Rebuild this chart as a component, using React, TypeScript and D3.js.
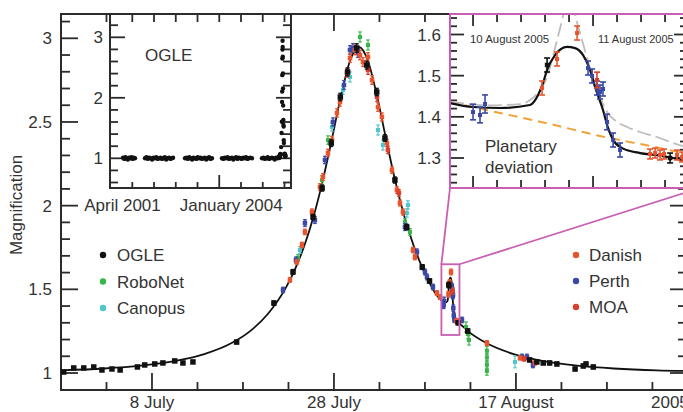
import React from 'react';
import * as d3 from 'd3';

type Pt = [number, number, number]; // HJD-2450000, magnification, error
type XY = [number, number];

const FONT = '"Liberation Sans", Arial, Helvetica, sans-serif';
const INK = '#2b2b2b';
const PINK = '#c95fb4';

// ---------- main light curve ----------
const modelCurve: XY[] = [
  [3550, 1.016], [3554.75, 1.027], [3558.75, 1.044], [3562.75, 1.074], [3565.75, 1.113],
  [3568.75, 1.179], [3570.75, 1.249], [3572.75, 1.354], [3574.75, 1.513], [3575.75, 1.624],
  [3576.75, 1.762], [3577.75, 1.934], [3578.75, 2.145], [3579.75, 2.392], [3580.75, 2.65],
  [3581.75, 2.863], [3582.75, 2.948], [3583.75, 2.863], [3584.75, 2.65], [3585.75, 2.392],
  [3586.75, 2.145], [3587.75, 1.934], [3588.75, 1.762], [3589.75, 1.624], [3590.75, 1.513],
  [3591.0, 1.489], [3591.808, 1.4336], [3592.0, 1.4239], [3592.225, 1.4214], [3592.475, 1.4287],
  [3592.542, 1.453], [3592.583, 1.482], [3592.617, 1.514], [3592.683, 1.55], [3592.783, 1.57],
  [3592.85, 1.567], [3592.917, 1.55], [3592.975, 1.514], [3593.017, 1.4725], [3593.083, 1.4166],
  [3593.125, 1.373], [3593.167, 1.344], [3593.242, 1.324], [3593.392, 1.312], [3593.533, 1.307],
  [3593.75, 1.295], [3593.908, 1.29], [3594.75, 1.249], [3596.75, 1.179], [3599.75, 1.113],
  [3602.75, 1.074], [3606.75, 1.044], [3610.75, 1.027], [3615.5, 1.016], [3619, 1.0125],
];

const ogle: Pt[] = [
  [3550.3, 1.006, .008], [3551.4, 1.03, .008], [3552.5, 1.03, .008], [3553.6, 1.036, .008],
  [3554.5, 1.018, .008], [3555.6, 1.024, .008], [3556.5, 1.018, .008], [3558.4, 1.036, .008],
  [3559.2, 1.048, .008], [3560.3, 1.054, .008], [3561.2, 1.06, .008], [3562.5, 1.072, .008],
  [3563.4, 1.06, .008], [3564.5, 1.066, .008], [3569.3, 1.185, .01], [3573.4, 1.418, .012],
  [3575.5, 1.604, .014], [3577.7, 1.932, .016], [3578.7, 2.105, .018], [3579.7, 2.374, .02],
  [3580.7, 2.649, .022], [3581.5, 2.799, .024], [3582.5, 2.942, .025], [3583.6, 2.84, .024],
  [3584.7, 2.679, .022], [3585.6, 2.404, .02], [3586.7, 2.153, .018], [3588.0, 1.872, .016],
  [3589.7, 1.633, .014], [3590.5, 1.55, .013], [3592.617, 1.5259, .017], [3593.642, 1.30, .012],
  [3594.7, 1.251, .012], [3601.5, 1.078, .01], [3602.3, 1.066, .01], [3603.0, 1.06, .01],
  [3603.7, 1.06, .01], [3604.5, 1.054, .01], [3606.5, 1.024, .01], [3607.4, 1.042, .01],
  [3607.7, 1.054, .01], [3608.5, 1.036, .01],
];

const robonet: Pt[] = [
  [3576.04, 1.687, .02], [3578.68, 2.153, .025], [3579.34, 2.392, .025], [3582.86, 3.008, .03],
  [3583.74, 2.96, .03], [3587.8, 1.902, .02], [3588.35, 1.843, .02], [3594.51, 1.275, .03],
  [3594.73, 1.233, .03], [3594.84, 1.197, .03], [3596.81, 1.134, .025], [3596.81, 1.093, .025],
  [3596.81, 1.051, .025], [3596.81, 1.012, .025],
];

const canopus: Pt[] = [
  [3576.26, 1.735, .02], [3579.78, 2.47, .025], [3580.99, 2.691, .025], [3581.76, 2.769, .03],
  [3584.84, 2.452, .03], [3585.38, 2.362, .03], [3588.13, 2.004, .025], [3588.02, 1.956, .025],
  [3599.89, 1.066, .035],
];

const danish: Pt[] = [
  [3575.16, 1.556, .014], [3575.93, 1.663, .014], [3576.48, 1.765, .016], [3576.81, 1.843, .016],
  [3577.58, 1.962, .018], [3578.46, 2.111, .02], [3578.79, 2.171, .02], [3579.34, 2.315, .022],
  [3579.78, 2.392, .022], [3580.33, 2.554, .025], [3580.66, 2.619, .025], [3581.43, 2.793, .026],
  [3581.76, 2.882, .026], [3582.31, 2.93, .028], [3582.86, 2.9, .028], [3583.19, 2.858, .026],
  [3583.74, 2.888, .026], [3584.18, 2.751, .026], [3584.84, 2.589, .025], [3585.27, 2.53, .024],
  [3585.82, 2.374, .022], [3586.37, 2.213, .02], [3586.92, 2.094, .02], [3587.25, 2.016, .018],
  [3587.58, 1.962, .018], [3588.68, 1.735, .016], [3588.9, 1.693, .016], [3591.32, 1.478, .014],
  [3591.65, 1.454, .014], [3592.575, 1.47, .017], [3592.7, 1.5405, .017], [3592.867, 1.6036, .017],
  [3593.475, 1.3097, .012], [3593.517, 1.3121, .012], [3593.558, 1.3073, .012], [3593.592, 1.3097, .012],
  [3593.7, 1.3073, .012], [3593.742, 1.3024, .012], [3596.81, 1.179, .014], [3600.44, 1.09, .012],
  [3602.09, 1.06, .012],
];

const moa: Pt[] = [
  [3583.74, 2.811, .026], [3584.73, 2.649, .026], [3585.93, 2.333, .022], [3587.14, 2.076, .02],
  [3593.033, 1.4895, .019], [3600.9, 1.085, .014],
];

const perth: Pt[] = [
  [3574.4, 1.496, .016], [3575.82, 1.675, .018], [3576.81, 1.896, .02], [3577.91, 1.914, .02],
  [3579.01, 2.273, .022], [3579.89, 2.5, .024], [3581.1, 2.721, .026], [3581.76, 2.93, .026],
  [3582.09, 2.942, .026], [3582.64, 2.912, .026], [3587.8, 1.872, .02], [3589.12, 1.723, .018],
  [3590.0, 1.604, .017], [3590.22, 1.574, .017], [3590.88, 1.514, .016], [3592.0, 1.4117, .019],
  [3592.058, 1.4044, .019], [3592.1, 1.4312, .022], [3592.958, 1.5186, .017], [3592.992, 1.4992, .017],
  [3593.033, 1.47, .017], [3593.058, 1.4603, .017], [3593.083, 1.4676, .017], [3593.117, 1.3874, .019],
  [3593.167, 1.3437, .017], [3593.225, 1.3194, .017], [3594.07, 1.317, .016], [3600.66, 1.096, .016],
  [3601.21, 1.096, .016], [3601.87, 1.048, .016],
];

const mainXMajor = [3560, 3580, 3600];
const mainXLabels = ['8 July', '28 July', '17 August'];
const mainYMajor = [1, 1.5, 2, 2.5, 3];

// ---------- OGLE long-term inset ----------
const ogleSeasons: XY[] = [
  [2115, 1.01], [2126, 0.99], [2137, 1.02], [2148, 1.0], [2159, 0.98], [2170, 1.01], [2181, 1.0],
  [2192, 1.02], [2203, 0.99], [2214, 1.01], [2225, 1.0],
  [2317, 1.0], [2330, 1.02], [2343, 0.99], [2356, 1.01], [2369, 1.0], [2382, 0.98], [2395, 1.01],
  [2408, 1.0], [2421, 1.02], [2434, 0.99], [2447, 1.0], [2460, 1.01], [2473, 0.99], [2486, 1.0],
  [2499, 1.02], [2512, 0.98], [2525, 1.0], [2538, 1.01], [2551, 0.99], [2564, 1.0], [2575, 1.01],
  [2685, 1.0], [2698, 1.01], [2711, 0.99], [2724, 1.02], [2737, 1.0], [2750, 0.98], [2763, 1.01],
  [2776, 1.0], [2789, 0.99], [2802, 1.02], [2815, 1.0], [2828, 1.01], [2841, 0.99], [2854, 1.0],
  [2867, 1.01], [2880, 0.98], [2893, 1.0], [2906, 1.02], [2919, 0.99], [2933, 1.0],
  [3025, 1.0], [3038, 0.99], [3051, 1.01], [3064, 1.0], [3077, 1.02], [3090, 0.99], [3103, 1.0],
  [3116, 1.01], [3129, 0.98], [3142, 1.0], [3155, 1.02], [3168, 0.99], [3181, 1.01], [3194, 1.0],
  [3207, 0.99], [3220, 1.01], [3233, 1.0], [3246, 1.02], [3259, 0.99], [3272, 1.0], [3285, 1.01],
  [3301, 1.0],
  [3393, 1.0], [3406, 1.01], [3419, 0.99], [3432, 1.0], [3445, 1.02], [3458, 0.99], [3471, 1.0],
  [3484, 1.01], [3497, 1.0], [3510, 0.98], [3523, 1.01], [3536, 1.0], [3545, 1.01],
];
const in1Labels = ['April 2001', 'January 2004'];
const in1LabelAt = [2110, 3110];
const in1XMajor = [2000, 3000];
const in1YMajor = [1, 2, 3];

// ---------- planetary deviation inset ----------
const singleLens: XY[] = [
  [3591.808, 1.436], [3592.225, 1.4093], [3592.642, 1.3826], [3593.058, 1.3534], [3593.475, 1.3291], [3593.9, 1.3024],
];
const altModel: XY[] = [
  [3591.808, 1.437], [3592.142, 1.428], [3592.392, 1.431], [3592.475, 1.4409], [3592.558, 1.4652],
  [3592.617, 1.4967], [3592.658, 1.538], [3592.7, 1.5866], [3592.742, 1.6352], [3592.775, 1.679],
  [3592.808, 1.7032], [3592.833, 1.679], [3592.858, 1.64], [3592.892, 1.6036], [3592.95, 1.5429],
  [3593.0, 1.4943], [3593.058, 1.4482], [3593.117, 1.4117], [3593.2, 1.3874], [3593.283, 1.3753],
  [3593.392, 1.3632], [3593.533, 1.351], [3593.667, 1.3364], [3593.808, 1.3243], [3593.9, 1.318],
];
const in2YMajor = [1.3, 1.4, 1.5, 1.6];
const in2XMajor = [3592, 3593];
const in2Labels = ['10 August 2005', '11 August 2005'];

const legendLeft = [
  { name: 'OGLE', color: '#111111' },
  { name: 'RoboNet', color: '#3ab54a' },
  { name: 'Canopus', color: '#4ec6cc' },
];
const legendRight = [
  { name: 'Danish', color: '#e8552d' },
  { name: 'Perth', color: '#3a48a6' },
  { name: 'MOA', color: '#d8402c' },
];

function Marks({ data, sx, sy, color, size, cap, sw }: any) {
  return (
    <g>
      {data.map((d: Pt, i: number) => {
        const cx = sx(d[0]);
        const cy = sy(d[1]);
        const y1 = sy(d[1] - d[2]);
        const y2 = sy(d[1] + d[2]);
        return (
          <g key={i}>
            <line x1={cx} x2={cx} y1={y1} y2={y2} stroke={color} strokeWidth={sw} />
            <line x1={cx - cap} x2={cx + cap} y1={y1} y2={y1} stroke={color} strokeWidth={sw} />
            <line x1={cx - cap} x2={cx + cap} y1={y2} y2={y2} stroke={color} strokeWidth={sw} />
            <rect x={cx - size / 2} y={cy - size / 2} width={size} height={size} fill={color} />
          </g>
        );
      })}
    </g>
  );
}

export default function App() {
  const W = 683, H = 412;
  // main frame
  const L = 61, R = 687, T = 14, B = 390;
  const x = d3.scaleLinear().domain([3550, 3618.8]).range([L, R]);
  const y = d3.scaleLinear().domain([1, 3]).range([373, 38.3]);
  const line = d3.line<XY>().x(d => x(d[0])).y(d => y(d[1])).curve(d3.curveMonotoneX);

  const xMinor = d3.range(3555, 3619, 5);
  const yMinor = d3.range(9, 32).map(v => v / 10).filter(v => y(v) > T + 1 && y(v) < B - 1);

  // inset 1
  const i1 = { l: 110, r: 291, t: 14, b: 188 };
  const x1 = d3.scaleLinear().domain([1995, 3660]).range([i1.l, i1.r]);
  const y1 = d3.scaleLinear().domain([1, 3]).range([158.3, 37.3]);
  const x1Ticks = d3.range(2200, 3700, 200).filter(v => x1(v) < i1.r - 2);
  const y1Ticks = d3.range(3, 17).map(v => v / 5).filter(v => y1(v) > i1.t + 1 && y1(v) < i1.b - 1);
  const inset1Pts: XY[] = ogleSeasons.concat(ogle.map(d => [d[0], d[1]] as XY));

  // inset 2 (120 px per day)
  const i2 = { l: 450, r: 692, t: 14, b: 188 };
  const x2 = d3.scaleLinear().domain([3591.808, 3591.808 + (i2.r - i2.l) / 120]).range([i2.l, i2.r]);
  const y2 = d3.scaleLinear().domain([1.3, 1.6]).range([158, 34.5]);
  const line2 = d3.line<XY>().x(d => x2(d[0])).y(d => y2(d[1])).curve(d3.curveMonotoneX);
  const x2Ticks = d3.range(3592, 3594, 0.2).map(v => Math.round(v * 10) / 10).filter(v => x2(v) < i2.r - 2);
  const y2Ticks = d3.range(62, 83).map(v => v / 50).filter(v => y2(v) > i2.t + 1 && y2(v) < i2.b - 1);
  const winEnd = 3591.808 + 238 / 120;
  const inWin = (d: Pt) => d[0] >= 3591.75 && d[0] <= winEnd + 0.1;

  // zoom box in main plot
  const bx0 = x(3591.808), bx1 = x(winEnd);
  const by0 = y(y2.invert(i2.t)), by1 = y(y2.invert(i2.b));

  const txt = { fontFamily: FONT, fill: '#333' } as const;

  return (
    <svg width={W} height={H} style={{ position: 'absolute', left: 0, top: 0, background: '#fff' }}>
      <defs>
        <clipPath id="cMain"><rect x={L} y={T} width={R - L} height={B - T} /></clipPath>
        <clipPath id="cIn1"><rect x={i1.l} y={i1.t} width={i1.r - i1.l} height={i1.b - i1.t} /></clipPath>
        <clipPath id="cIn2"><rect x={i2.l} y={i2.t} width={i2.r - i2.l} height={i2.b - i2.t} /></clipPath>
      </defs>
      <rect x={0} y={0} width={W} height={H} fill="#fff" />

      {/* main axes ticks */}
      <g stroke={INK} strokeWidth={1.8}>
        {xMinor.map(v => {
          const maj = mainXMajor.includes(v);
          const len = maj ? 17 : 8;
          return (
            <g key={'xt' + v}>
              <line x1={x(v)} x2={x(v)} y1={B} y2={B - len} />
              <line x1={x(v)} x2={x(v)} y1={T} y2={T + len} />
            </g>
          );
        })}
        {yMinor.map(v => {
          const maj = mainYMajor.some(m => Math.abs(m - v) < 1e-6);
          const len = maj ? 17 : 9;
          return (
            <g key={'yt' + v}>
              <line x1={L} x2={L + len} y1={y(v)} y2={y(v)} />
              <line x1={R} x2={R - len} y1={y(v)} y2={y(v)} />
            </g>
          );
        })}
      </g>
      <rect x={L} y={T} width={R - L} height={B - T} fill="none" stroke={INK} strokeWidth={2} />

      {mainYMajor.map(v => (
        <text key={'yl' + v} x={52} y={y(v)} dy="0.36em" textAnchor="end" fontSize={17} style={txt}>{String(v)}</text>
      ))}
      {mainXMajor.map((v, i) => (
        <text key={'xl' + v} x={x(v)} y={407.5} textAnchor="middle" fontSize={17} style={txt}>{mainXLabels[i]}</text>
      ))}
      <text x={651} y={407.5} textAnchor="start" fontSize={17} style={txt}>2005</text>
      <text transform="translate(22,205) rotate(-90)" textAnchor="middle" fontSize={17} style={txt}>Magnification</text>

      {/* main curve and data */}
      <g clipPath="url(#cMain)">
        <path d={line(modelCurve) || ''} fill="none" stroke="#111" strokeWidth={1.8} />
        <Marks data={canopus} sx={x} sy={y} color="#4ec6cc" size={4} cap={1.8} sw={1.2} />
        <Marks data={robonet} sx={x} sy={y} color="#3ab54a" size={4} cap={1.8} sw={1.2} />
        <Marks data={perth} sx={x} sy={y} color="#3a48a6" size={4.5} cap={1.8} sw={1.4} />
        <Marks data={danish} sx={x} sy={y} color="#e8552d" size={4.5} cap={1.8} sw={1.4} />
        <Marks data={moa} sx={x} sy={y} color="#d8402c" size={4.5} cap={1.8} sw={1.4} />
        <Marks data={ogle} sx={x} sy={y} color="#111" size={5.5} cap={2} sw={1.4} />
      </g>

      {/* legends */}
      {legendLeft.map((d, i) => (
        <g key={d.name}>
          <circle cx={103} cy={255 + i * 26.5} r={3.2} fill={d.color} />
          <text x={117} y={261 + i * 26.5} fontSize={17} style={txt}>{d.name}</text>
        </g>
      ))}
      {legendRight.map((d, i) => (
        <g key={d.name}>
          <circle cx={576} cy={255 + i * 26} r={3.2} fill={d.color} />
          <text x={589} y={261 + i * 26} fontSize={17} style={txt}>{d.name}</text>
        </g>
      ))}

      {/* OGLE long-term inset */}
      <rect x={i1.l} y={i1.t} width={i1.r - i1.l} height={i1.b - i1.t} fill="#fff" />
      <g stroke={INK} strokeWidth={1.8}>
        {x1Ticks.map(v => {
          const maj = in1XMajor.includes(v);
          return (
            <g key={'x1' + v}>
              <line x1={x1(v)} x2={x1(v)} y1={i1.b} y2={i1.b - (maj ? 13 : 6)} />
              <line x1={x1(v)} x2={x1(v)} y1={i1.t} y2={i1.t + 8} />
            </g>
          );
        })}
        {y1Ticks.map(v => {
          const maj = in1YMajor.some(m => Math.abs(m - v) < 1e-6);
          const len = maj ? 15 : 8;
          return (
            <g key={'y1' + v}>
              <line x1={i1.l} x2={i1.l + len} y1={y1(v)} y2={y1(v)} />
              <line x1={i1.r} x2={i1.r - len} y1={y1(v)} y2={y1(v)} />
            </g>
          );
        })}
      </g>
      <g clipPath="url(#cIn1)">
        {inset1Pts.map((d, i) => (
          <circle key={i} cx={x1(d[0])} cy={y1(d[1])} r={2.2} fill="#111" />
        ))}
      </g>
      <rect x={i1.l} y={i1.t} width={i1.r - i1.l} height={i1.b - i1.t} fill="none" stroke={INK} strokeWidth={2} />
      {in1YMajor.map(v => (
        <text key={'y1l' + v} x={103} y={y1(v)} dy="0.36em" textAnchor="end" fontSize={17} style={txt}>{String(v)}</text>
      ))}
      {in1Labels.map((s, i) => (
        <text key={s} x={x1(in1LabelAt[i])} y={211} textAnchor="middle" fontSize={17} style={txt}>{s}</text>
      ))}
      <text x={145} y={61} fontSize={17} style={txt}>OGLE</text>

      {/* planetary deviation inset */}
      <rect x={i2.l} y={i2.t} width={i2.r - i2.l} height={i2.b - i2.t} fill="#fff" />
      <g stroke={INK} strokeWidth={1.8}>
        {x2Ticks.map(v => {
          const maj = in2XMajor.some(m => Math.abs(m - v) < 1e-6);
          const len = maj ? 12 : 8;
          return (
            <g key={'x2' + v}>
              <line x1={x2(v)} x2={x2(v)} y1={i2.b} y2={i2.b - len} />
              <line x1={x2(v)} x2={x2(v)} y1={i2.t} y2={i2.t + len} />
            </g>
          );
        })}
        {y2Ticks.map(v => {
          const maj = in2YMajor.some(m => Math.abs(m - v) < 1e-6);
          return (
            <g key={'y2' + v}>
              <line x1={i2.l} x2={i2.l + (maj ? 14 : 7)} y1={y2(v)} y2={y2(v)} />
              <line x1={i2.r} x2={i2.r - (maj ? 18 : 12)} y1={y2(v)} y2={y2(v)} />
            </g>
          );
        })}
      </g>
      <g clipPath="url(#cIn2)">
        <path d={line2(singleLens) || ''} fill="none" stroke="#f0a238" strokeWidth={2} strokeDasharray="9,6" />
        <path d={line2(altModel) || ''} fill="none" stroke="#bdbdbd" strokeWidth={1.8} strokeDasharray="14,5" />
        <path d={line2(modelCurve.filter(d => d[0] > 3591.5 && d[0] < 3594.2)) || ''} fill="none" stroke="#111" strokeWidth={2.2} />
        <Marks data={perth.filter(inWin)} sx={x2} sy={y2} color="#3a48a6" size={4} cap={3} sw={1.6} />
        <Marks data={danish.filter(inWin)} sx={x2} sy={y2} color="#e8552d" size={4} cap={3} sw={1.6} />
        <Marks data={moa.filter(inWin)} sx={x2} sy={y2} color="#d8402c" size={4} cap={3} sw={1.6} />
        <Marks data={ogle.filter(inWin)} sx={x2} sy={y2} color="#111" size={4.5} cap={3} sw={1.6} />
      </g>
      <rect x={i2.l} y={i2.t} width={i2.r - i2.l} height={i2.b - i2.t} fill="none" stroke={PINK} strokeWidth={2} />
      {in2YMajor.map(v => (
        <text key={'y2l' + v} x={441} y={y2(v)} dy="0.36em" textAnchor="end" fontSize={17} style={txt}>{String(v)}</text>
      ))}
      <text x={470} y={43} fontSize={11.4} style={txt}>{in2Labels[0]}</text>
      <text x={598} y={43} fontSize={11} style={txt}>{in2Labels[1]}</text>
      <text x={485} y={152} fontSize={17} style={txt}>Planetary</text>
      <text x={485} y={173} fontSize={17} style={txt}>deviation</text>

      {/* zoom box and connectors */}
      <g stroke={PINK} strokeWidth={1.8} fill="none">
        <rect x={bx0} y={by0} width={bx1 - bx0} height={by1 - by0} />
        <line x1={bx0} y1={by0} x2={i2.l} y2={i2.b} />
        <line x1={bx1} y1={by0} x2={700} y2={i2.b} />
      </g>
    </svg>
  );
}
